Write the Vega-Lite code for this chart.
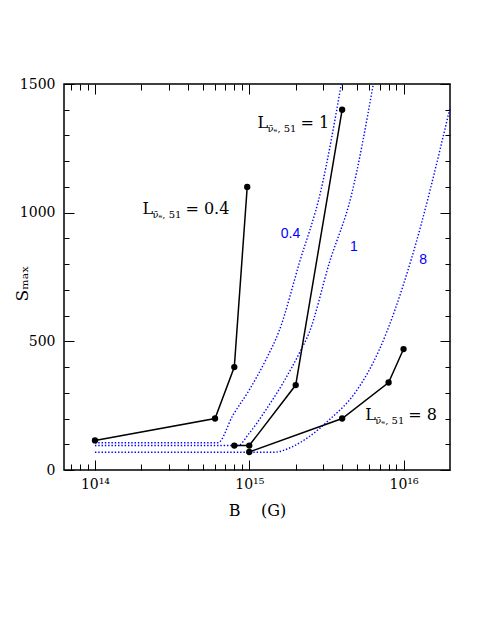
{
  "$schema": "https://vega.github.io/schema/vega-lite/v6.json",
  "width": 386,
  "height": 386,
  "autosize": "none",
  "padding": {"left": 64, "top": 84, "right": 41, "bottom": 165},
  "background": "white",
  "config": {
    "view": {"stroke": "black", "strokeWidth": 1.5},
    "axis": {
      "labelFont": "DejaVu Serif",
      "labelFontSize": 14,
      "labelColor": "black",
      "tickColor": "black",
      "tickWidth": 1,
      "titleFont": "DejaVu Serif",
      "titleFontWeight": "normal",
      "titleColor": "black",
      "grid": false,
      "domain": false,
      "labelOverlap": false,
      "labelBound": false,
      "labelFlush": false
    }
  },
  "datasets": {
    "runs": [
      {"L": "0.4", "B": 1e14, "S": 115},
      {"L": "0.4", "B": 6e14, "S": 200},
      {"L": "0.4", "B": 8e14, "S": 400},
      {"L": "0.4", "B": 9.7e14, "S": 1100},
      {"L": "1", "B": 8e14, "S": 95},
      {"L": "1", "B": 1e15, "S": 95},
      {"L": "1", "B": 2e15, "S": 330},
      {"L": "1", "B": 4e15, "S": 1400},
      {"L": "8", "B": 1e15, "S": 70},
      {"L": "8", "B": 4e15, "S": 200},
      {"L": "8", "B": 8e15, "S": 340},
      {"L": "8", "B": 1e16, "S": 470}
    ],
    "curves": [
      {"L": "0.4", "B": 1e14, "S": 106},
      {"L": "0.4", "B": 6.26e14, "S": 106},
      {"L": "0.4", "B": 7.82e14, "S": 212},
      {"L": "0.4", "B": 1e15, "S": 311},
      {"L": "0.4", "B": 1.28e15, "S": 428},
      {"L": "0.4", "B": 1.57e15, "S": 544},
      {"L": "0.4", "B": 2.11e15, "S": 804},
      {"L": "0.4", "B": 2.92e15, "S": 1089},
      {"L": "0.4", "B": 3.95e15, "S": 1500},
      {"L": "1", "B": 1e14, "S": 95},
      {"L": "1", "B": 8.43e14, "S": 95},
      {"L": "1", "B": 1e15, "S": 143},
      {"L": "1", "B": 1.28e15, "S": 233},
      {"L": "1", "B": 1.65e15, "S": 337},
      {"L": "1", "B": 2.11e15, "S": 454},
      {"L": "1", "B": 2.45e15, "S": 535},
      {"L": "1", "B": 3.3e15, "S": 804},
      {"L": "1", "B": 4.6e15, "S": 1070},
      {"L": "1", "B": 6.37e15, "S": 1500},
      {"L": "8", "B": 1e14, "S": 69},
      {"L": "8", "B": 1.45e15, "S": 69},
      {"L": "8", "B": 1.91e15, "S": 91},
      {"L": "8", "B": 2.45e15, "S": 130},
      {"L": "8", "B": 3.3e15, "S": 195},
      {"L": "8", "B": 4.92e15, "S": 305},
      {"L": "8", "B": 6.96e15, "S": 467},
      {"L": "8", "B": 1.12e16, "S": 817},
      {"L": "8", "B": 2e16, "S": 1407}
    ],
    "curveLabels": [
      {"text": "0.4", "B": 1.85e15, "S": 917},
      {"text": "1", "B": 4.76e15, "S": 867},
      {"text": "8", "B": 1.34e16, "S": 817}
    ],
    "runLabels": [
      {"value": "= 0.4", "B": 2.03e14, "S": 996},
      {"value": "= 1", "B": 1.13e15, "S": 1329},
      {"value": "= 8", "B": 5.65e15, "S": 194}
    ]
  },
  "layer": [
    {
      "data": {"name": "curves"},
      "mark": {"type": "line", "color": "#0000ff", "strokeWidth": 1.4, "strokeDash": [1.4, 1.9], "clip": true, "interpolate": "monotone"},
      "encoding": {
        "x": {
          "field": "B", "type": "quantitative",
          "scale": {"type": "log", "domain": [6.3e13, 2e16], "nice": false},
          "axis": {
            "orient": "top",
            "values": [7e13, 8e13, 9e13, 1e14, 2e14, 3e14, 4e14, 5e14, 6e14, 7e14, 8e14, 9e14, 1e15, 2e15, 3e15, 4e15, 5e15, 6e15, 7e15, 8e15, 9e15, 1e16],
            "tickSize": {"condition": {"test": "abs(log(datum.value)/LN10 - round(log(datum.value)/LN10)) < 0.01", "value": -10}, "value": -6},
            "labels": false,
            "title": null
          }
        },
        "y": {
          "field": "S", "type": "quantitative",
          "scale": {"domain": [0, 1500], "nice": false, "zero": false},
          "axis": {
            "orient": "right",
            "values": [0, 100, 200, 300, 400, 500, 600, 700, 800, 900, 1000, 1100, 1200, 1300, 1400, 1500],
            "tickSize": {"condition": {"test": "datum.value % 500 == 0", "value": -10}, "value": -5},
            "labels": false,
            "title": null
          }
        },
        "detail": {"field": "L", "type": "nominal"},
        "order": {"field": "B", "type": "quantitative"}
      }
    },
    {
      "data": {"name": "runs"},
      "mark": {"type": "line", "color": "black", "strokeWidth": 1.5, "point": {"filled": true, "color": "black", "size": 40, "opacity": 1}},
      "encoding": {
        "x": {
          "field": "B", "type": "quantitative",
          "scale": {"type": "log", "domain": [6.3e13, 2e16], "nice": false},
          "axis": {
            "orient": "bottom",
            "values": [7e13, 8e13, 9e13, 1e14, 2e14, 3e14, 4e14, 5e14, 6e14, 7e14, 8e14, 9e14, 1e15, 2e15, 3e15, 4e15, 5e15, 6e15, 7e15, 8e15, 9e15, 1e16],
            "tickSize": {"condition": {"test": "abs(log(datum.value)/LN10 - round(log(datum.value)/LN10)) < 0.01", "value": -10}, "value": -6},
            "labelExpr": "abs(datum.value - 1e14) < 1e10 ? '10¹⁴' : abs(datum.value - 1e15) < 1e11 ? '10¹⁵' : abs(datum.value - 1e16) < 1e12 ? '10¹⁶' : ''",
            "labelPadding": 17,
            "title": "B\u00a0\u00a0\u00a0\u00a0(G)",
            "titleFontSize": 16,
            "titleX": 193,
            "titleY": 45,
            "titleBaseline": "alphabetic",
            "titleAnchor": "middle",
            "titleAlign": "center"
          }
        },
        "y": {
          "field": "S", "type": "quantitative",
          "scale": {"domain": [0, 1500], "nice": false, "zero": false},
          "axis": {
            "orient": "left",
            "values": [0, 100, 200, 300, 400, 500, 600, 700, 800, 900, 1000, 1100, 1200, 1300, 1400, 1500],
            "tickSize": {"condition": {"test": "datum.value % 500 == 0", "value": -10}, "value": -5},
            "format": "d",
            "labelExpr": "datum.value % 500 == 0 ? datum.label : ''",
            "labelPadding": 19,
            "title": "Sₘₐₓ",
            "titleFontSize": 17,
            "titleAngle": -90,
            "titleX": -42,
            "titleY": 199,
            "titleBaseline": "middle",
            "titleAlign": "center"
          }
        },
        "detail": {"field": "L", "type": "nominal"},
        "order": {"field": "B", "type": "quantitative"}
      }
    },
    {
      "data": {"name": "curveLabels"},
      "mark": {"type": "text", "font": "Liberation Sans", "fontSize": 14, "color": "#0000ff", "align": "center", "baseline": "middle"},
      "encoding": {
        "x": {"field": "B", "type": "quantitative", "axis": null},
        "y": {"field": "S", "type": "quantitative", "axis": null},
        "text": {"field": "text"}
      }
    },
    {
      "data": {"name": "runLabels"},
      "mark": {"type": "text", "font": "DejaVu Serif", "fontSize": 16, "color": "black", "align": "left", "baseline": "alphabetic"},
      "encoding": {
        "x": {"field": "B", "type": "quantitative", "axis": null},
        "y": {"field": "S", "type": "quantitative", "axis": null},
        "text": {"value": "L"}
      }
    },
    {
      "data": {"name": "runLabels"},
      "mark": {"type": "text", "font": "DejaVu Serif", "fontSize": 10, "color": "black", "align": "left", "baseline": "alphabetic", "dx": 10, "dy": 4},
      "encoding": {
        "x": {"field": "B", "type": "quantitative", "axis": null},
        "y": {"field": "S", "type": "quantitative", "axis": null},
        "text": {"value": "ν̄ₑ, 51"}
      }
    },
    {
      "data": {"name": "runLabels"},
      "mark": {"type": "text", "font": "DejaVu Serif", "fontSize": 16, "color": "black", "align": "left", "baseline": "alphabetic", "dx": 43},
      "encoding": {
        "x": {"field": "B", "type": "quantitative", "axis": null},
        "y": {"field": "S", "type": "quantitative", "axis": null},
        "text": {"field": "value"}
      }
    }
  ],
  "resolve": {"axis": {"x": "independent", "y": "independent"}}
}
